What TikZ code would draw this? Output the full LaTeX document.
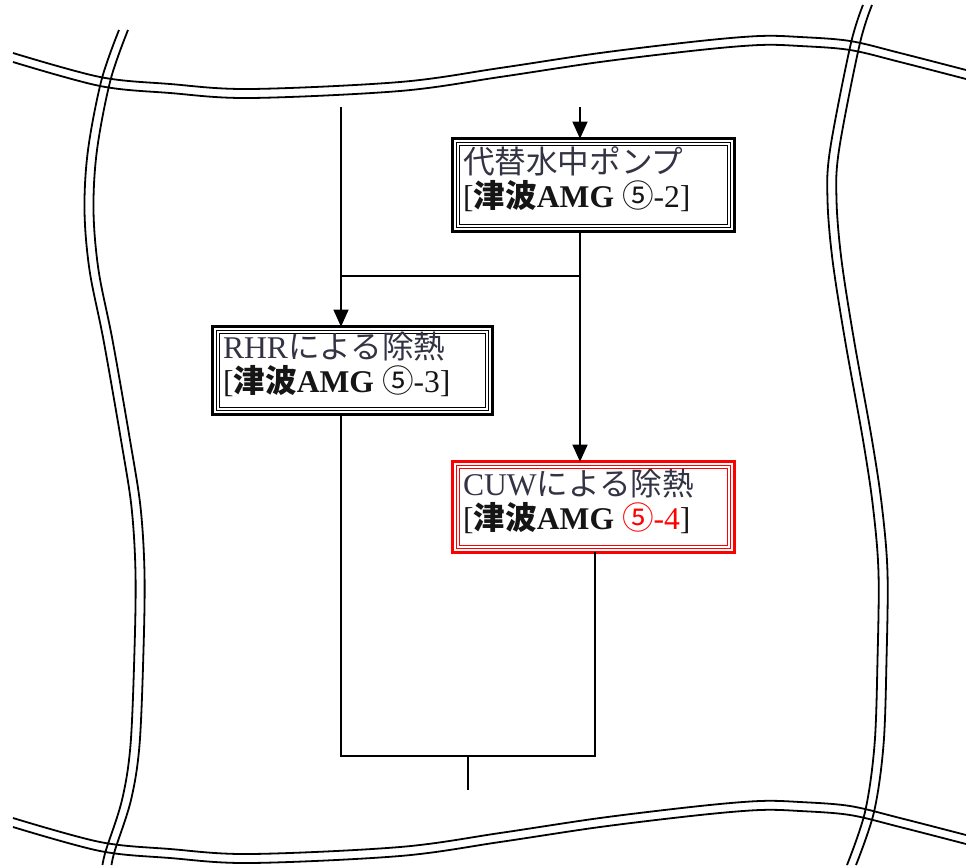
\documentclass[tikz,border=0pt]{standalone}
\usepackage{fontspec}
\setmainfont{Liberation Serif}
\newfontfamily\jp{Noto Sans CJK JP}
\usetikzlibrary{arrows.meta}
\definecolor{lineone}{HTML}{333344}
\definecolor{linetwo}{HTML}{151515}
\definecolor{redframe}{HTML}{FF0000}
\newcommand\tframe[2]{%
  \draw[#2, line width=0.056cm] (#1.south west) rectangle (#1.north east);
  \draw[#2, line width=0.024cm] ([shift={(0.07cm,0.07cm)}]#1.south west) rectangle ([shift={(-0.07cm,-0.07cm)}]#1.north east);
  \draw[#2, line width=0.024cm] ([shift={(0.13cm,0.13cm)}]#1.south west) rectangle ([shift={(-0.13cm,-0.13cm)}]#1.north east);
}
\begin{document}
\begin{tikzpicture}[x=0.02cm,y=-0.02cm,
  wave/.style={line width=0.036cm, black},
  conn/.style={line width=0.028cm, black},
  arr/.style={conn, -{Triangle[width=0.3cm,length=0.34cm]}},
  boxframe/.style={draw=none, inner sep=0pt},
  boxtext/.style={anchor=west, align=left, inner sep=0pt,
    font=\fontsize{18}{19.2}\selectfont}]
\useasboundingbox (0,0) rectangle (966,865);
% wavy break lines
\foreach \dy in {0,9,765,774}{
  \draw[wave, shift={(0,\dy)}] plot[smooth, tension=0.55] coordinates
    {(13,53) (100,77) (170,84) (250,89) (400,82) (500,68) (600,53) (700,41) (760,36) (800,37) (850,41) (900,53) (966,70)};
}
\foreach \dx in {-4.5,4.5}{
  \draw[wave, shift={(\dx,0)}] plot[smooth, tension=0.55] coordinates
    {(123.5,30) (106,80) (92.5,150) (89,210) (94,270) (108,340) (125.5,440) (136,507) (140,573) (139,650) (135,745) (126.5,800) (110.5,850) (107,865)};
  \draw[wave, shift={(\dx,0)}] plot[smooth, tension=0.55] coordinates
    {(867.5,5) (855,45) (834.5,150) (832,200) (837,260) (849.5,340) (867.5,440) (877.5,507) (883,573) (882,660) (879,745) (869.5,812) (851.5,865)};
}
% boxes
\node[boxframe, minimum width=5.62cm, minimum height=1.84cm] (b1) at (593.5,185) {};
\node[boxframe, minimum width=5.58cm, minimum height=1.74cm] (b2) at (352.5,370.5) {};
\node[boxframe, minimum width=5.62cm, minimum height=1.80cm] (b3) at (593.5,507) {};
\tframe{b1}{black}
\tframe{b2}{black}
\tframe{b3}{redframe}
\node[boxtext] (t1) at ([xshift=0.2cm, yshift=0.12cm]b1.west)
  {\textcolor{lineone}{\jp 代替水中ポンプ}\\
   \textcolor{linetwo}{[{\jp\bfseries 津波}{\bfseries AMG} {\jp ⑤}-2]}};
\node[boxtext] (t2) at ([xshift=0.2cm, yshift=0.12cm]b2.west)
  {\textcolor{lineone}{RHR{\jp による除熱}}\\
   \textcolor{linetwo}{[{\jp\bfseries 津波}{\bfseries AMG} {\jp ⑤}-3]}};
\node[boxtext] (t3) at ([xshift=0.2cm, yshift=0.12cm]b3.west)
  {\textcolor{lineone}{CUW{\jp による除熱}}\\
   \textcolor{linetwo}{[{\jp\bfseries 津波}{\bfseries AMG} \textcolor{redframe}{{\jp ⑤}-4}]}};
% connectors
\coordinate (tL) at (341,107);
\coordinate (tR) at (580,107);
\coordinate (jL) at (341,276);
\coordinate (jR) at (580,276);
\coordinate (bL) at (341,756);
\coordinate (bR) at (595,756);
\coordinate (bM) at (468,756);
\coordinate (bEnd) at (468,790);
\draw[arr] (tR) -- (tR |- b1.north);
\draw[arr] (tL) -- (tL |- b2.north);
\draw[arr] (b1.south -| tR) -- (tR |- b3.north);
\draw[conn] (jR) -- (jL);
\draw[conn] (b2.south -| bL) -- (bL) -- (bR) -- (b3.south -| bR);
\draw[conn] (bM) -- (bEnd);
\end{tikzpicture}
\end{document}
